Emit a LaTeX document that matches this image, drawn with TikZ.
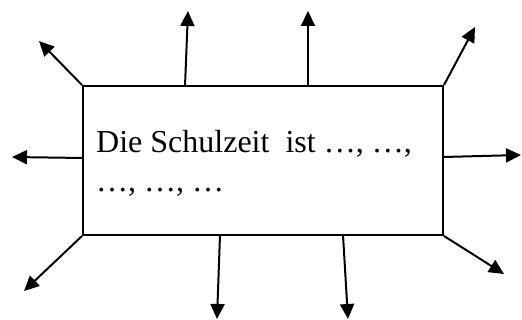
\documentclass[tikz,border=0pt]{standalone}
\usepackage{fontspec}
\setmainfont{Liberation Serif}
\usetikzlibrary{arrows.meta}
\tikzset{
  frame/.style={draw=black, line width=2pt, minimum width=360pt, minimum height=149pt, inner sep=0pt},
  ray/.style={line width=2pt, -{Triangle[length=15pt,width=14pt]}},
  txt/.style={inner sep=0pt, align=left, anchor=north west, font=\fontsize{32}{39}\selectfont}
}
\begin{document}
\begin{tikzpicture}[x=1pt,y=-1pt]
\useasboundingbox (0,0) rectangle (522,320);
\node[frame] (b) at (263,160.5) {};
\node[txt] (t) at (96,130) {Die Schulzeit\ \ ist …, …,\\…, …, …};
% bases on edges
\coordinate (t1) at (185,86);
\coordinate (t2) at (308,86);
\coordinate (l1) at (83,158);
\coordinate (r1) at (443,157);
\coordinate (d1) at (220,235);
\coordinate (d2) at (343,235);
% tips
\coordinate (A) at (39,41);
\coordinate (B) at (188,11);
\coordinate (C) at (308,11);
\coordinate (D) at (475,27);
\coordinate (E) at (12,157);
\coordinate (F) at (521,155);
\coordinate (G) at (24,291);
\coordinate (H) at (217,319);
\coordinate (I) at (348,319);
\coordinate (J) at (504,274);
\draw[ray] (b.north west) -- (A);
\draw[ray] (t1) -- (B);
\draw[ray] (t2) -- (C);
\draw[ray] (b.north east) -- (D);
\draw[ray] (l1) -- (E);
\draw[ray] (r1) -- (F);
\draw[ray] (b.south west) -- (G);
\draw[ray] (d1) -- (H);
\draw[ray] (d2) -- (I);
\draw[ray] (b.south east) -- (J);
\end{tikzpicture}
\end{document}
